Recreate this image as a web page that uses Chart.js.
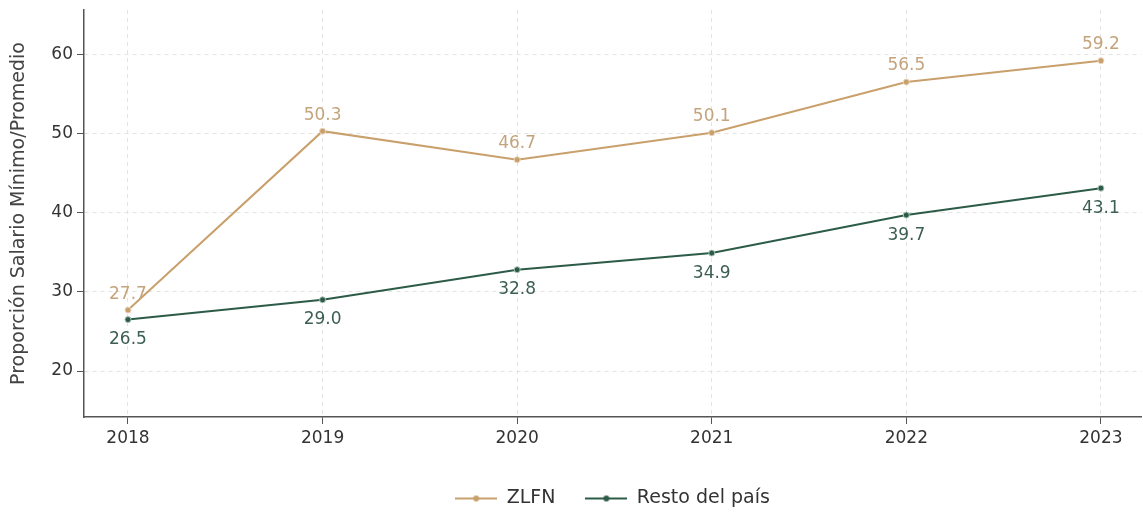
<!DOCTYPE html>
<html>
<head>
<meta charset="utf-8">
<script src="https://cdn.jsdelivr.net/npm/chart.js@4"></script>
<style>
html,body{margin:0;padding:0;background:#fff;}
#wrap{width:1143px;height:515px;position:relative;}
</style>
</head>
<body>
<div id="wrap"><canvas id="c" width="1143" height="515"></canvas></div>
<script>
const years = [2018, 2019, 2020, 2021, 2022, 2023];
const zlfn = [27.7, 50.3, 46.7, 50.1, 56.5, 59.2];
const resto = [26.5, 29.0, 32.8, 34.9, 39.7, 43.1];
const yTicks = [20, 30, 40, 50, 60];
const seriesNames = ['ZLFN', 'Resto del país'];
const yTitle = 'Proporción Salario Mínimo/Promedio';

const tan = '#c9a06c';
const green = '#2c5b48';
const tanLabel = '#c4a47c';
const greenLabel = '#3c5f52';
const FONT = '"DejaVu Sans", "Noto Sans", sans-serif';

function legendIcon(color) {
  const cv = document.createElement('canvas');
  cv.width = 42; cv.height = 10;
  const g = cv.getContext('2d');
  g.strokeStyle = color; g.lineWidth = 2;
  g.beginPath(); g.moveTo(0, 5); g.lineTo(42, 5); g.stroke();
  g.fillStyle = color;
  g.beginPath(); g.arc(21, 5, 3, 0, Math.PI * 2); g.fill();
  return cv;
}
const icons = [legendIcon(tan), legendIcon(green)];

const labelPlugin = {
  id: 'valueLabels',
  afterDatasetsDraw(chart) {
    const ctx = chart.ctx;
    ctx.save();
    ctx.font = '17px ' + FONT;
    ctx.textAlign = 'center';
    ctx.textBaseline = 'middle';
    chart.data.datasets.forEach((ds, i) => {
      const meta = chart.getDatasetMeta(i);
      meta.data.forEach((pt, j) => {
        const v = ds.data[j].y;
        if (i === 0) {
          ctx.fillStyle = tanLabel;
          ctx.fillText(v.toFixed(1), pt.x, pt.y - 16);
        } else {
          ctx.fillStyle = greenLabel;
          ctx.fillText(v.toFixed(1), pt.x, pt.y + 20);
        }
      });
    });
    ctx.restore();
  }
};

const toPts = arr => arr.map((v, i) => ({ x: years[i], y: v }));

new Chart(document.getElementById('c'), {
  type: 'line',
  data: {
    datasets: [
      { label: seriesNames[0], data: toPts(zlfn), borderColor: tan, backgroundColor: tan,
        borderWidth: 2, pointRadius: 3, pointBorderWidth: 1, pointBorderColor: '#e8d6bd', tension: 0 },
      { label: seriesNames[1], data: toPts(resto), borderColor: green, backgroundColor: green,
        borderWidth: 2, pointRadius: 3, pointBorderWidth: 1, pointBorderColor: '#a9c4b8', tension: 0 }
    ]
  },
  options: {
    responsive: false,
    animation: false,
    layout: { autoPadding: false, padding: { top: 10, right: 2, left: 0, bottom: -3 } },
    plugins: {
      tooltip: { enabled: false },
      legend: {
        position: 'bottom',
        fullSize: false,
        labels: {
          usePointStyle: true,
          pointStyleWidth: 42,
          padding: 30,
          color: '#333',
          font: { family: FONT, size: 19 },
          generateLabels(chart) {
            return chart.data.datasets.map((ds, i) => ({
              text: ds.label, pointStyle: icons[i], fillStyle: ds.borderColor,
              strokeStyle: ds.borderColor, lineWidth: 0, datasetIndex: i, fontColor: '#333'
            }));
          }
        }
      }
    },
    scales: {
      x: {
        type: 'linear',
        min: 2017.774,
        max: 2023.206,
        afterBuildTicks(s) { s.ticks = years.map(v => ({ value: v })); },
        afterFit(s) { s.height = 42; s.paddingLeft = 0; s.paddingRight = 0; },
        ticks: { color: '#333', font: { family: FONT, size: 17 }, padding: 4,
                 callback: v => String(v), autoSkip: false, maxRotation: 0 },
        grid: { color: '#e3e3e3', tickColor: '#555', tickLength: 7, drawTicks: true },
        border: { color: '#555', width: 1.5, dash: [4, 4] }
      },
      y: {
        min: 14.2,
        max: 65.6,
        afterBuildTicks(s) { s.ticks = yTicks.map(v => ({ value: v })); },
        afterFit(s) { s.width = 84; s.paddingTop = 0; s.paddingBottom = 0; },
        ticks: { color: '#333', font: { family: FONT, size: 17 }, padding: 4 },
        title: { display: true, text: yTitle, color: '#444', font: { family: FONT, size: 19 }, padding: { top: 8, bottom: 4 } },
        grid: { color: '#e3e3e3', tickColor: '#555', tickLength: 7 },
        border: { color: '#555', width: 1.5, dash: [4, 4] }
      }
    }
  },
  plugins: [labelPlugin]
});
</script>
</body>
</html>
